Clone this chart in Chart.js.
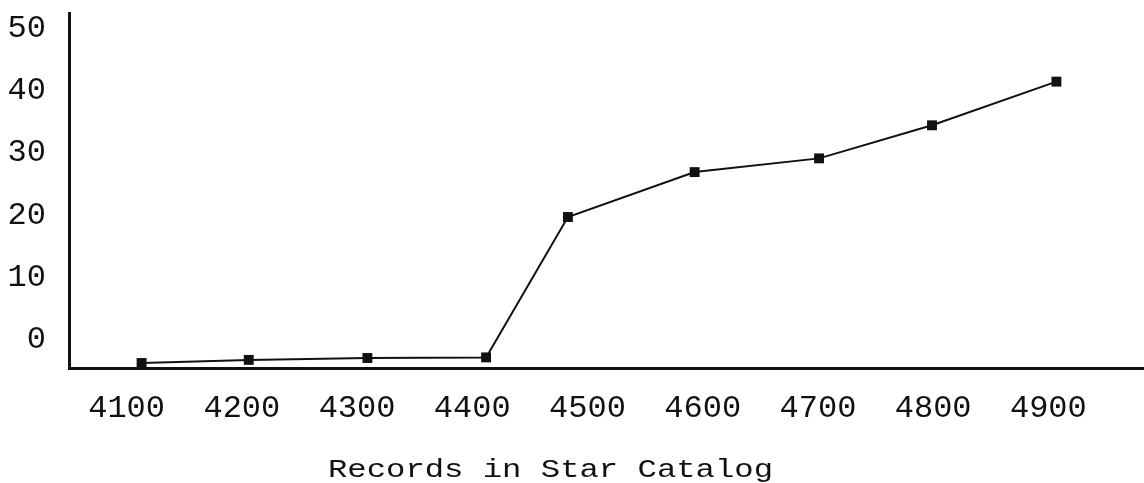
<!DOCTYPE html>
<html>
<head>
<meta charset="utf-8">
<script src="https://cdn.jsdelivr.net/npm/chart.js@4"></script>
<style>
  body { margin: 0; background: #ffffff; }
  #wrap { width: 1144px; height: 483px; position: relative; }
</style>
</head>
<body>
<div id="wrap"><canvas id="starChart"></canvas></div>
<script>
const records = [4113, 4206, 4309, 4412, 4483, 4593, 4701, 4799, 4907];
const values = [0.8, 1.3, 1.6, 1.7, 24.2, 31.4, 33.6, 38.9, 45.9];
const xTicks = [4100, 4200, 4300, 4400, 4500, 4600, 4700, 4800, 4900];
const yTicks = [0, 10, 20, 30, 40, 50];
const xTitle = 'Records in Star Catalog';

const ink = '#111111';
const mono = "'Liberation Mono', 'DejaVu Sans Mono', monospace";

// x title is drawn by hand, slightly stretched like the scanned Courier
const axisTitle = {
    id: 'axisTitle',
    afterDraw(chart) {
        const ctx = chart.ctx;
        ctx.save();
        ctx.fillStyle = ink;
        ctx.font = '26px ' + mono;
        ctx.textAlign = 'left';
        ctx.textBaseline = 'alphabetic';
        ctx.translate(328, 477);
        ctx.scale(1.24, 1);
        ctx.fillText(xTitle, 0, 0);
        ctx.restore();
    }
};

const ctx = document.getElementById('starChart').getContext('2d');
new Chart(ctx, {
    type: 'line',
    data: {
        datasets: [{
            data: records.map((r, i) => ({ x: r, y: values[i] })),
            borderColor: ink,
            borderWidth: 2,
            tension: 0,
            pointStyle: 'rect',
            pointRadius: 7,
            pointBackgroundColor: ink,
            pointBorderWidth: 0
        }]
    },
    options: {
        responsive: true,
        maintainAspectRatio: false,
        animation: false,
        layout: { autoPadding: false, padding: { top: 13, right: 0, left: 0, bottom: 0 } },
        plugins: {
            legend: { display: false },
            tooltip: { enabled: false }
        },
        scales: {
            x: {
                type: 'linear',
                min: 4050,
                max: 4983,
                afterBuildTicks: function(scale) {
                    scale.ticks = xTicks.map(v => ({ value: v }));
                },
                afterFit: function(scale) {
                    scale.height = 115;
                    scale.paddingLeft = 0;
                    scale.paddingRight = 0;
                },
                grid: { display: false },
                border: { color: ink, width: 3 },
                ticks: {
                    color: ink,
                    font: { family: mono, size: 32 },
                    padding: 13,
                    callback: v => String(v)
                }
            },
            y: {
                min: 0,
                max: 56.9,
                afterBuildTicks: function(scale) {
                    scale.ticks = yTicks.map(v => ({ value: v }));
                },
                afterFit: function(scale) {
                    scale.width = 69;
                    scale.paddingTop = 0;
                    scale.paddingBottom = 0;
                },
                grid: { display: false },
                border: { color: ink, width: 3 },
                ticks: {
                    color: ink,
                    font: { family: mono, size: 32 },
                    padding: 15,
                    labelOffset: -28,
                    callback: v => String(v)
                }
            }
        }
    },
    plugins: [axisTitle]
});
</script>
</body>
</html>
